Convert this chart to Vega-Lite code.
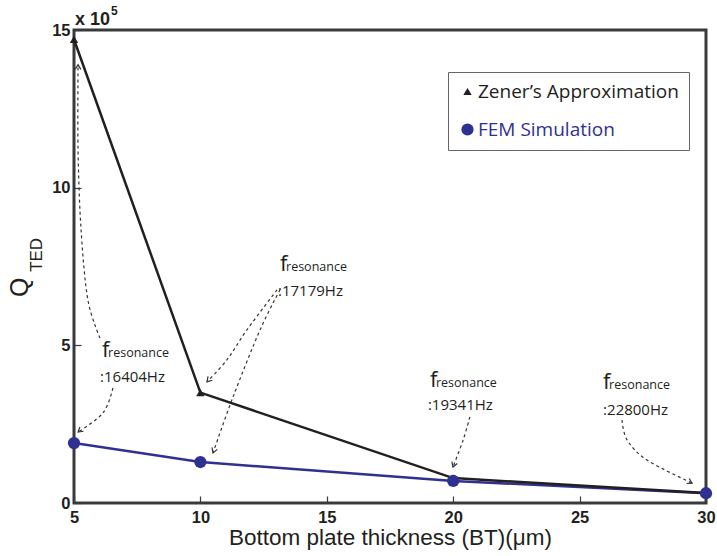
{
  "$schema": "https://vega.github.io/schema/vega-lite/v6.json",
  "width": 632,
  "height": 473,
  "autosize": "none",
  "padding": {"left": 74, "top": 30, "right": 11, "bottom": 53},
  "background": "white",
  "config": {
    "view": {"stroke": "#3a3a3a", "strokeWidth": 3},
    "axis": {
      "domain": false,
      "grid": false,
      "labelFont": "Liberation Sans",
      "labelFontWeight": "bold",
      "labelFontSize": 16.5,
      "labelColor": "#231f20",
      "labelFlush": false,
      "tickColor": "#3a3a3a",
      "tickWidth": 1.2,
      "tickSize": -7
    }
  },
  "datasets": {
    "series": [
      {"bt": 5, "q": 14.7, "method": "Zener’s Approximation"},
      {"bt": 10, "q": 3.5, "method": "Zener’s Approximation"},
      {"bt": 20, "q": 0.79, "method": "Zener’s Approximation"},
      {"bt": 30, "q": 0.32, "method": "Zener’s Approximation"},
      {"bt": 5, "q": 1.9, "method": "FEM Simulation"},
      {"bt": 10, "q": 1.3, "method": "FEM Simulation"},
      {"bt": 20, "q": 0.7, "method": "FEM Simulation"},
      {"bt": 30, "q": 0.31, "method": "FEM Simulation"}
    ],
    "arrows": [
      {"arrow": "A", "step": 1, "bt": 6.54, "q": 3.65},
      {"arrow": "A", "step": 2, "bt": 6.15, "q": 2.86},
      {"arrow": "A", "step": 3, "bt": 5.16, "q": 2.25},
      {"arrow": "B", "step": 1, "bt": 6.03, "q": 5.23},
      {"arrow": "B", "step": 2, "bt": 5.55, "q": 6.44},
      {"arrow": "B", "step": 3, "bt": 5.28, "q": 8.66},
      {"arrow": "B", "step": 4, "bt": 5.16, "q": 11.19},
      {"arrow": "B", "step": 5, "bt": 5.16, "q": 13.9},
      {"arrow": "C", "step": 1, "bt": 13.03, "q": 6.76},
      {"arrow": "C", "step": 2, "bt": 11.84, "q": 5.49},
      {"arrow": "C", "step": 3, "bt": 11.05, "q": 4.54},
      {"arrow": "C", "step": 4, "bt": 10.26, "q": 3.84},
      {"arrow": "D", "step": 1, "bt": 13.15, "q": 6.76},
      {"arrow": "D", "step": 2, "bt": 12.36, "q": 5.49},
      {"arrow": "D", "step": 3, "bt": 11.29, "q": 3.36},
      {"arrow": "D", "step": 4, "bt": 10.5, "q": 1.59},
      {"arrow": "E", "step": 1, "bt": 20.66, "q": 2.73},
      {"arrow": "E", "step": 2, "bt": 20.39, "q": 1.99},
      {"arrow": "E", "step": 3, "bt": 19.99, "q": 1.14},
      {"arrow": "F", "step": 1, "bt": 26.68, "q": 2.63},
      {"arrow": "F", "step": 2, "bt": 26.88, "q": 2.0},
      {"arrow": "F", "step": 3, "bt": 27.67, "q": 1.36},
      {"arrow": "F", "step": 4, "bt": 29.45, "q": 0.63}
    ],
    "notes": [
      {"bt": 6.11, "q": 4.63},
      {"bt": 13.15, "q": 7.36},
      {"bt": 19.08, "q": 3.68},
      {"bt": 25.93, "q": 3.62}
    ],
    "freqs": [
      {"bt": 6.03, "q": 3.84, "freq": ":16404Hz"},
      {"bt": 13.07, "q": 6.57, "freq": ":17179Hz"},
      {"bt": 19.0, "q": 2.95, "freq": ":19341Hz"},
      {"bt": 25.93, "q": 2.79, "freq": ":22800Hz"}
    ]
  },
  "encoding": {
    "x": {
      "field": "bt",
      "type": "quantitative",
      "scale": {"domain": [5, 30], "nice": false, "zero": false},
      "axis": {
        "values": [5, 10, 15, 20, 25, 30],
        "title": "Bottom plate thickness (BT)(μm)",
        "titleFont": "Liberation Sans",
        "titleFontWeight": "normal",
        "titleFontSize": 22.5,
        "titleColor": "#231f20",
        "titlePadding": 1,
        "labelPadding": 13
      }
    },
    "y": {
      "field": "q",
      "type": "quantitative",
      "scale": {"domain": [0, 15], "nice": false},
      "axis": {"values": [0, 5, 10, 15], "title": null, "labelPadding": 11}
    }
  },
  "layer": [
    {
      "data": {"name": "arrows"},
      "mark": {"type": "line", "interpolate": "cardinal", "stroke": "#333", "strokeWidth": 1.2, "strokeDash": [3, 3]},
      "encoding": {"detail": {"field": "arrow"}, "order": {"field": "step", "type": "quantitative"}}
    },
    {
      "data": {"name": "arrows"},
      "transform": [{"filter": "datum.arrow == 'A' && datum.step == 3"}],
      "mark": {"type": "point", "shape": "M-1,-0.6L0,0L-1,0.6", "angle": 141, "size": 90, "filled": false, "stroke": "#333", "strokeWidth": 1.2, "opacity": 1}
    },
    {
      "data": {"name": "arrows"},
      "transform": [{"filter": "datum.arrow == 'B' && datum.step == 5"}],
      "mark": {"type": "point", "shape": "M-1,-0.6L0,0L-1,0.6", "angle": 270, "size": 90, "filled": false, "stroke": "#333", "strokeWidth": 1.2, "opacity": 1}
    },
    {
      "data": {"name": "arrows"},
      "transform": [{"filter": "datum.arrow == 'C' && datum.step == 4"}],
      "mark": {"type": "point", "shape": "M-1,-0.6L0,0L-1,0.6", "angle": 132, "size": 90, "filled": false, "stroke": "#333", "strokeWidth": 1.2, "opacity": 1}
    },
    {
      "data": {"name": "arrows"},
      "transform": [{"filter": "datum.arrow == 'D' && datum.step == 4"}],
      "mark": {"type": "point", "shape": "M-1,-0.6L0,0L-1,0.6", "angle": 110, "size": 90, "filled": false, "stroke": "#333", "strokeWidth": 1.2, "opacity": 1}
    },
    {
      "data": {"name": "arrows"},
      "transform": [{"filter": "datum.arrow == 'E' && datum.step == 3"}],
      "mark": {"type": "point", "shape": "M-1,-0.6L0,0L-1,0.6", "angle": 110, "size": 90, "filled": false, "stroke": "#333", "strokeWidth": 1.2, "opacity": 1}
    },
    {
      "data": {"name": "arrows"},
      "transform": [{"filter": "datum.arrow == 'F' && datum.step == 4"}],
      "mark": {"type": "point", "shape": "M-1,-0.6L0,0L-1,0.6", "angle": 27, "size": 90, "filled": false, "stroke": "#333", "strokeWidth": 1.2, "opacity": 1}
    },
    {
      "data": {"name": "series"},
      "transform": [{"filter": "datum.method == 'FEM Simulation'"}],
      "mark": {"type": "line", "strokeWidth": 2.5, "stroke": "#2e3192"}
    },
    {
      "data": {"name": "series"},
      "transform": [{"filter": "datum.method == 'Zener’s Approximation'"}],
      "mark": {"type": "line", "strokeWidth": 2.5, "stroke": "#231f20"}
    },
    {
      "data": {"name": "series"},
      "mark": {"type": "point", "filled": true, "opacity": 1},
      "encoding": {
        "color": {
          "field": "method",
          "type": "nominal",
          "scale": {"domain": ["Zener’s Approximation", "FEM Simulation"], "range": ["#231f20", "#2e3192"]},
          "legend": {
            "title": "",
            "orient": "none",
            "legendX": 374,
            "legendY": 42,
            "strokeColor": "#666",
            "fillColor": "white",
            "padding": 10,
            "rowPadding": 18,
            "labelFont": "Open Sans",
            "labelFontSize": 19,
            "labelOffset": 1,
            "labelLimit": 300,
            "labelColor": {"expr": "datum.value == 'FEM Simulation' ? '#2e3192' : '#231f20'"}
          }
        },
        "shape": {
          "field": "method",
          "type": "nominal",
          "scale": {"domain": ["Zener’s Approximation", "FEM Simulation"], "range": ["triangle-up", "circle"]}
        },
        "size": {
          "field": "method",
          "type": "nominal",
          "scale": {"domain": ["Zener’s Approximation", "FEM Simulation"], "range": [70, 150]}
        }
      }
    },
    {
      "data": {"name": "notes"},
      "mark": {"type": "text", "text": "f", "font": "Open Sans", "fontSize": 22, "align": "left", "baseline": "alphabetic", "color": "#231f20"}
    },
    {
      "data": {"name": "notes"},
      "mark": {"type": "text", "text": "resonance", "font": "Open Sans", "fontSize": 12.5, "align": "left", "baseline": "alphabetic", "dx": 6, "color": "#231f20"}
    },
    {
      "data": {"name": "freqs"},
      "mark": {"type": "text", "font": "Open Sans", "fontSize": 15, "align": "left", "baseline": "alphabetic", "color": "#231f20"},
      "encoding": {"text": {"field": "freq"}}
    },
    {
      "data": {"values": [{"bt": 3.18, "q": 6.53}]},
      "mark": {"type": "text", "text": "Q", "font": "Liberation Sans", "fontSize": 25, "angle": 270, "align": "left", "baseline": "alphabetic", "color": "#231f20"}
    },
    {
      "data": {"values": [{"bt": 3.73, "q": 7.33}]},
      "mark": {"type": "text", "text": "TED", "font": "Liberation Sans", "fontSize": 17, "angle": 270, "align": "left", "baseline": "alphabetic", "color": "#231f20"}
    },
    {
      "data": {"values": [{"bt": 5.04, "q": 15.16}]},
      "mark": {"type": "text", "text": "x 10", "font": "Liberation Sans", "fontWeight": "bold", "fontSize": 18, "align": "left", "baseline": "alphabetic", "color": "#231f20"}
    },
    {
      "data": {"values": [{"bt": 6.46, "q": 15.48}]},
      "mark": {"type": "text", "text": "5", "font": "Liberation Sans", "fontWeight": "bold", "fontSize": 12, "align": "left", "baseline": "alphabetic", "color": "#231f20"}
    }
  ]
}
